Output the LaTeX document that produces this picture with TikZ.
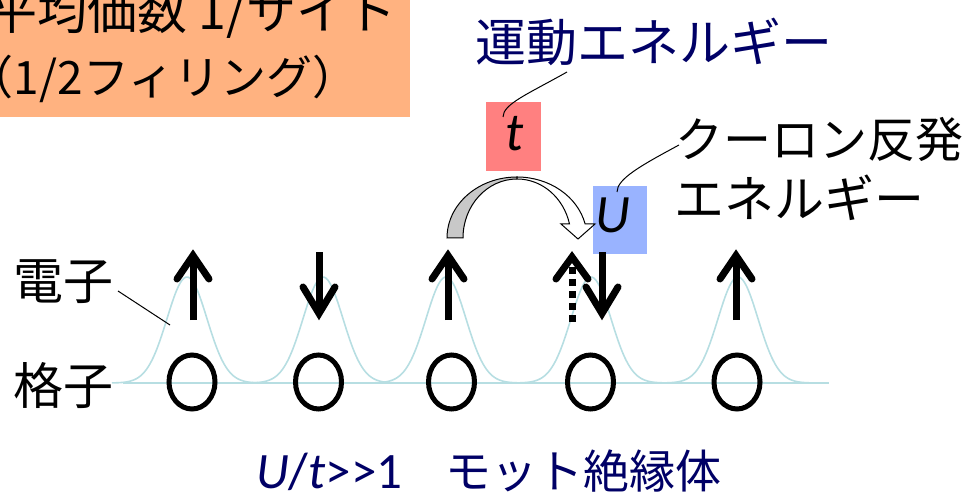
\documentclass[tikz,border=0pt]{standalone}
\usepackage{fontspec}
\usetikzlibrary{shapes.geometric}
\newfontfamily\jpfont{Noto Sans CJK JP}
\newfontfamily\latfont{Carlito}
\definecolor{navy}{RGB}{0,0,102}
\definecolor{orangebox}{RGB}{255,178,128}
\definecolor{tboxcol}{RGB}{255,128,128}
\definecolor{uboxcol}{RGB}{153,179,255}
\definecolor{wavecol}{RGB}{183,222,226}
\definecolor{hopgray}{RGB}{200,200,200}
\begin{document}
\begin{tikzpicture}[x=1pt,y=1pt,
  jp/.style={font=\jpfont\fontsize{#1}{#1}\selectfont, inner sep=0pt, outer sep=0pt},
  jp/.default=50,
  lat/.style={font=\latfont\fontsize{#1}{#1}\selectfont, inner sep=0pt},
  lat/.default=54,
  wave/.style={draw=wavecol, line width=1.6pt},
  site/.style={draw=black, line width=5pt, ellipse, minimum width=46pt, minimum height=54pt, inner sep=0pt},
  spinshaft/.style={line width=7pt, line cap=butt},
  spinhead/.style={line width=7pt, line cap=round, line join=miter},
  leader/.style={draw=black, line width=1pt},
  hop/.style={draw=black, line width=1pt, line join=miter}
]
\useasboundingbox (0,0) rectangle (968,-494);
\clip (0,0) rectangle (968,-494);

% orange box with filling text
\fill[orangebox] (-5,5) rectangle (410,-117);
\node[jp, anchor=base east] (val1) at (396,-30) {平均価数 1/サイト};
\node[jp=46, anchor=base west] (val2) at (-32,-95) {（1/2フィリング）};

% kinetic energy label and t box
\node[jp=51, anchor=base west, text=navy] (kin) at (475,-62) {運動エネルギー};
\node[fill=tboxcol, minimum width=55pt, minimum height=69pt, inner sep=0pt] (tb) at (513.5,-136.5) {};
\node[lat, anchor=base] (tl) at (515,-151) {\itshape t};
\coordinate (kinfoot) at (567,-72);
\coordinate (tfoot) at (503,-117);
\draw[leader] (kinfoot) .. controls (528,-94) and (503,-104) .. (tfoot);

% Coulomb label and U box
\node[jp=48, anchor=base west] (cou1) at (675,-158) {クーロン反発};
\node[jp=50, anchor=base west] (cou2) at (674,-218) {エネルギー};
\node[fill=uboxcol, minimum width=54pt, minimum height=68pt, inner sep=0pt] (ub) at (620,-220) {};
\node[lat, anchor=base] (ul) at (613,-233) {\itshape U};
\coordinate (coufoot) at (679,-145);
\coordinate (ufoot) at (617,-192);
\draw[leader] (coufoot) .. controls (640,-166) and (617,-179) .. (ufoot);

% hopping arrow
\coordinate (hopc) at (517,-238);
\path[hop, fill=hopgray] (447,-238) arc[start angle=180, end angle=90, x radius=70, y radius=61]
  -- (517,-179) arc[start angle=90, end angle=180, x radius=54, y radius=59] -- cycle;
\path[hop, fill=white] (517,-177) arc[start angle=90, end angle=13.3, x radius=70, y radius=61]
  -- (595,-224) -- (578,-239) -- (561,-224) -- (569.5,-224)
  arc[start angle=13.7, end angle=90, x radius=54, y radius=59] -- cycle;

% lattice line and electron clouds
\draw[wave] (123,-383) -- (829,-383);
\foreach \pc in {187,323,446,591,738}{
  \draw[wave] plot[domain=\pc-75:\pc+75, samples=80, smooth] (\x, {-383+106*exp(-((\x-\pc)/20)^2/2)});
}

% lattice sites
\foreach \sx/\nm in {192/s1,318.5/s2,451.5/s3,590.5/s4,737/s5}{
  \node[site] (\nm) at (\sx,-382) {};
}

% spins
\foreach \ax in {193,448,736}{
  \draw[spinshaft] (\ax,-320) -- (\ax,-256);
  \draw[spinhead] (\ax-16,-279) -- (\ax,-255.5) -- (\ax+16,-279);
}
\foreach \ax in {319,602}{
  \draw[spinshaft] (\ax,-252) -- (\ax,-312);
  \draw[spinhead] (\ax-16,-287) -- (\ax,-313.5) -- (\ax+16,-287);
}
\draw[spinshaft, dash pattern=on 7pt off 5pt] (572,-322) -- (572,-266);
\draw[spinhead] (556,-279) -- (572,-257) -- (588,-279);

% side labels
\node[jp, anchor=base west] (elec) at (13,-299) {電子};
\node[jp, anchor=base west] (latt) at (13,-404) {格子};
\coordinate (elecfoot) at (118,-291);
\coordinate (cloudpt) at (170,-325);
\draw[leader] (elecfoot) -- (cloudpt);

% bottom caption
\node[lat=51, anchor=base west, text=navy, text depth=0pt] (ratio) at (256,-488) {\itshape U\/\upshape/\itshape t\/\upshape>>1};
\node[jp=46, anchor=base west, text=navy, text depth=0pt] (mott) at (445,-488) {モット絶縁体};
\end{tikzpicture}
\end{document}
